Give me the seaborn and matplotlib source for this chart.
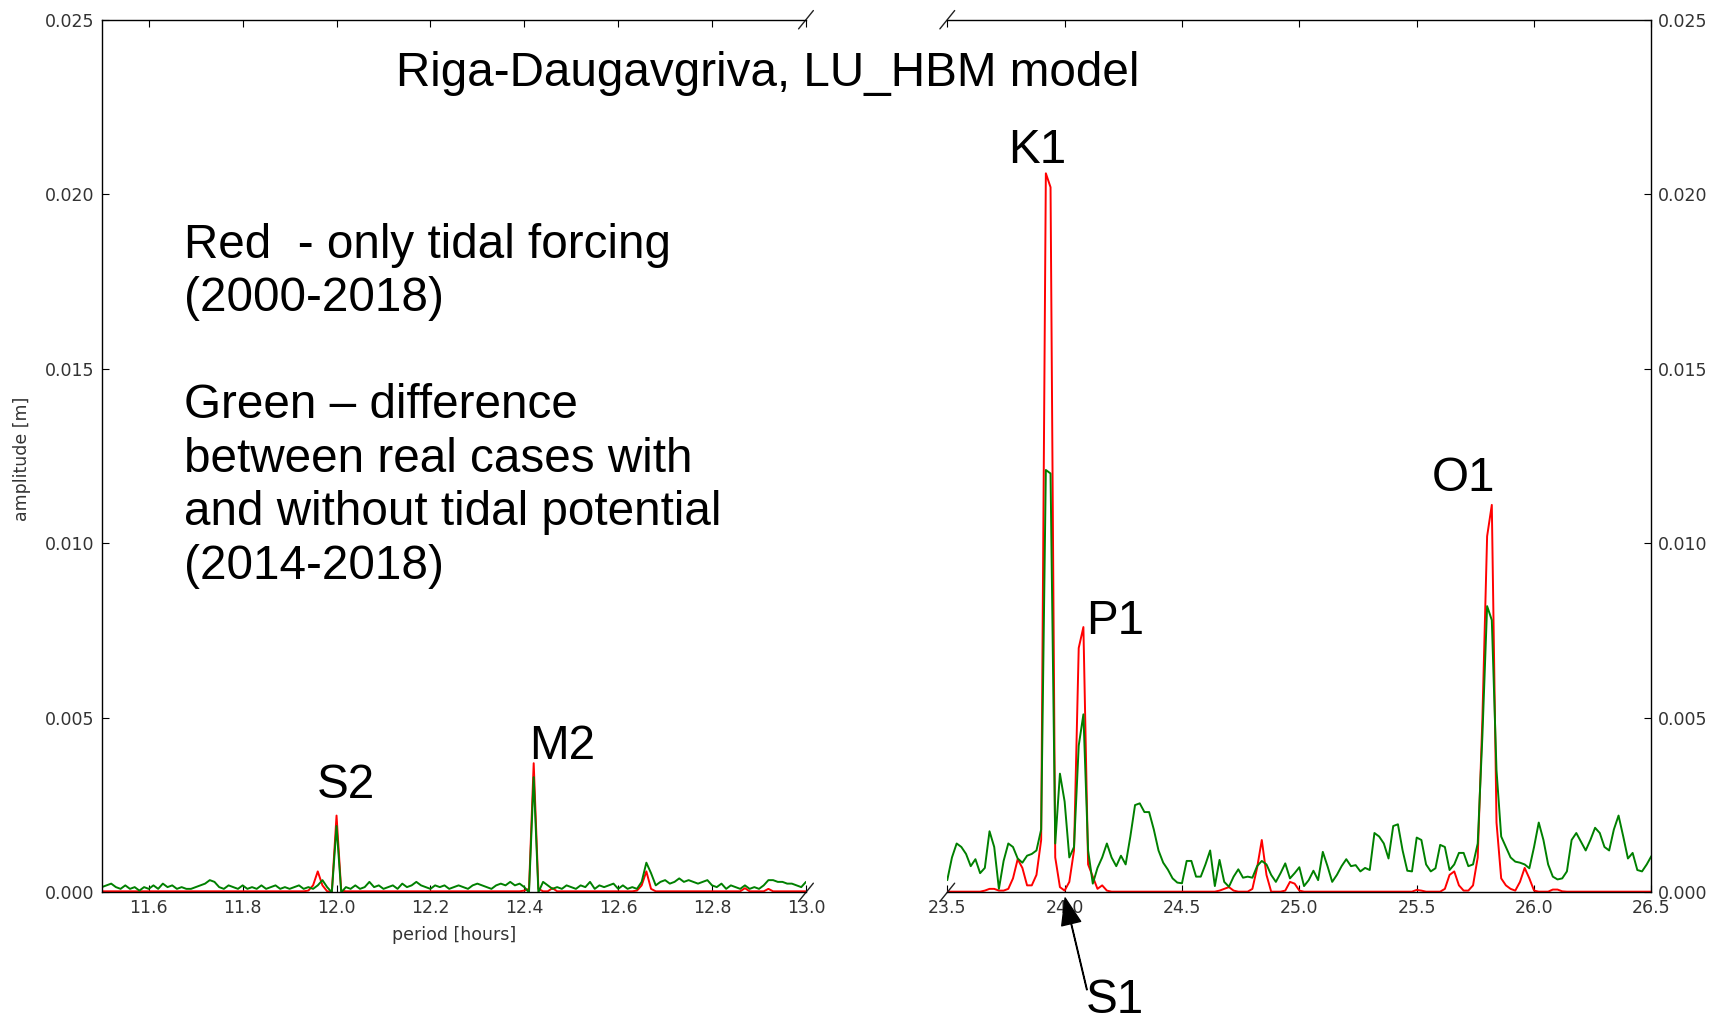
import numpy as np
import pandas as pd
import matplotlib
matplotlib.use("Agg")
import matplotlib.pyplot as plt
import seaborn as sns

# ---------------- data (amplitudes in mm, converted to m below) ----------------
# semi-diurnal window: periods 11.50 .. 13.00 h, step 0.01 h
semi_period = np.round(np.arange(11.50, 13.0001, 0.01), 2)
semi_red_mm = [
    0.03, 0.03, 0.03, 0.03, 0.03, 0.03, 0.03, 0.03, 0.03, 0.03,
    0.03, 0.03, 0.03, 0.03, 0.03, 0.03, 0.03, 0.03, 0.03, 0.03,
    0.03, 0.03, 0.03, 0.03, 0.03, 0.03, 0.03, 0.03, 0.03, 0.03,
    0.03, 0.03, 0.03, 0.03, 0.03, 0.03, 0.03, 0.03, 0.03, 0.03,
    0.03, 0.03, 0.03, 0.03, 0.05, 0.20, 0.60, 0.20, 0.03, 0.02,
    2.20, 0.05, 0.03, 0.03, 0.03, 0.03, 0.03, 0.03, 0.03, 0.03,
    0.03, 0.03, 0.03, 0.03, 0.03, 0.03, 0.03, 0.03, 0.03, 0.03,
    0.03, 0.03, 0.03, 0.03, 0.03, 0.03, 0.03, 0.03, 0.03, 0.03,
    0.03, 0.03, 0.03, 0.03, 0.03, 0.03, 0.03, 0.03, 0.03, 0.03,
    0.05, 0.10, 3.70, 0.10, 0.03, 0.03, 0.12, 0.03, 0.03, 0.03,
    0.03, 0.03, 0.03, 0.03, 0.03, 0.03, 0.03, 0.03, 0.03, 0.03,
    0.03, 0.03, 0.03, 0.03, 0.05, 0.20, 0.60, 0.10, 0.03, 0.03,
    0.03, 0.03, 0.03, 0.03, 0.03, 0.03, 0.03, 0.03, 0.03, 0.03,
    0.03, 0.03, 0.03, 0.03, 0.03, 0.03, 0.03, 0.12, 0.03, 0.03,
    0.03, 0.03, 0.10, 0.03, 0.03, 0.03, 0.03, 0.03, 0.03, 0.03,
    0.03,
]
semi_green_mm = [
    0.15, 0.20, 0.25, 0.15, 0.10, 0.20, 0.10, 0.15, 0.05, 0.15,
    0.10, 0.20, 0.10, 0.25, 0.15, 0.20, 0.10, 0.15, 0.10, 0.10,
    0.15, 0.20, 0.25, 0.35, 0.30, 0.15, 0.10, 0.20, 0.15, 0.10,
    0.20, 0.10, 0.15, 0.10, 0.20, 0.10, 0.15, 0.20, 0.10, 0.15,
    0.10, 0.15, 0.20, 0.10, 0.15, 0.10, 0.20, 0.35, 0.15, 0.00,
    1.90, 0.00, 0.15, 0.10, 0.20, 0.10, 0.15, 0.30, 0.15, 0.20,
    0.10, 0.15, 0.20, 0.10, 0.25, 0.15, 0.20, 0.30, 0.20, 0.15,
    0.10, 0.20, 0.15, 0.20, 0.10, 0.15, 0.20, 0.15, 0.10, 0.20,
    0.25, 0.20, 0.15, 0.10, 0.20, 0.25, 0.20, 0.30, 0.20, 0.25,
    0.15, 0.00, 3.30, 0.00, 0.30, 0.20, 0.10, 0.15, 0.10, 0.20,
    0.15, 0.10, 0.20, 0.15, 0.30, 0.10, 0.20, 0.15, 0.20, 0.25,
    0.10, 0.20, 0.10, 0.15, 0.10, 0.30, 0.85, 0.55, 0.20, 0.30,
    0.35, 0.25, 0.30, 0.40, 0.30, 0.35, 0.30, 0.25, 0.30, 0.35,
    0.20, 0.15, 0.25, 0.10, 0.20, 0.15, 0.10, 0.20, 0.10, 0.15,
    0.10, 0.20, 0.35, 0.35, 0.30, 0.30, 0.25, 0.25, 0.20, 0.15,
    0.30,
]

# diurnal window: periods 23.50 .. 26.50 h, step 0.02 h
diur_period = np.round(np.arange(23.50, 26.5001, 0.02), 2)
diur_red_mm = [
    0.02, 0.02, 0.02, 0.02, 0.02, 0.02, 0.02, 0.02, 0.05, 0.10,
    0.10, 0.05, 0.05, 0.10, 0.40, 0.95, 0.70, 0.20, 0.20, 0.50,
    1.50, 20.6, 20.2, 1.00, 0.15, 0.05, 0.30, 1.20, 7.00, 7.60,
    0.80, 0.45, 0.10, 0.20, 0.05, 0.02, 0.02, 0.02, 0.02, 0.02,
    0.02, 0.02, 0.02, 0.02, 0.02, 0.02, 0.02, 0.02, 0.02, 0.02,
    0.02, 0.02, 0.02, 0.02, 0.02, 0.02, 0.02, 0.02, 0.05, 0.10,
    0.15, 0.05, 0.02, 0.02, 0.02, 0.10, 0.70, 1.50, 0.50, 0.02,
    0.02, 0.02, 0.05, 0.30, 0.25, 0.05, 0.02, 0.02, 0.02, 0.02,
    0.02, 0.02, 0.02, 0.02, 0.02, 0.02, 0.02, 0.02, 0.02, 0.02,
    0.02, 0.02, 0.02, 0.02, 0.02, 0.02, 0.02, 0.02, 0.02, 0.02,
    0.07, 0.05, 0.02, 0.02, 0.02, 0.02, 0.10, 0.50, 0.60, 0.20,
    0.05, 0.05, 0.20, 1.00, 5.00, 10.2, 11.1, 2.00, 0.40, 0.20,
    0.10, 0.05, 0.30, 0.70, 0.40, 0.05, 0.02, 0.02, 0.02, 0.08,
    0.08, 0.03, 0.02, 0.02, 0.02, 0.02, 0.02, 0.02, 0.02, 0.02,
    0.02, 0.02, 0.02, 0.02, 0.02, 0.02, 0.02, 0.02, 0.02, 0.02,
    0.02,
]
diur_green_mm = [
    0.35, 1.00, 1.40, 1.30, 1.10, 0.75, 0.95, 0.55, 0.70, 1.75,
    1.30, 0.10, 0.90, 1.40, 1.30, 0.97, 0.85, 1.05, 1.10, 1.20,
    1.80, 12.1, 12.0, 1.40, 3.40, 2.60, 1.00, 1.30, 4.20, 5.10,
    1.20, 0.25, 0.70, 1.00, 1.40, 1.00, 0.75, 1.05, 0.80, 1.60,
    2.50, 2.55, 2.30, 2.30, 1.80, 1.20, 0.85, 0.65, 0.40, 0.28,
    0.26, 0.90, 0.90, 0.45, 0.45, 0.80, 1.20, 0.18, 0.93, 0.30,
    0.16, 0.45, 0.66, 0.42, 0.45, 0.42, 0.75, 0.90, 0.80, 0.50,
    0.30, 0.55, 0.83, 0.40, 0.55, 0.72, 0.18, 0.35, 0.62, 0.35,
    1.16, 0.75, 0.30, 0.50, 0.75, 0.95, 0.75, 0.78, 0.60, 0.70,
    0.64, 1.70, 1.60, 1.40, 0.97, 1.90, 1.95, 1.20, 0.62, 0.60,
    1.57, 1.50, 0.80, 0.60, 0.69, 1.36, 1.30, 0.64, 0.80, 1.13,
    1.13, 0.75, 0.80, 1.40, 4.50, 8.20, 7.80, 3.50, 1.60, 1.30,
    1.00, 0.88, 0.85, 0.80, 0.69, 1.30, 2.00, 1.50, 0.80, 0.45,
    0.37, 0.40, 0.60, 1.50, 1.70, 1.45, 1.20, 1.50, 1.85, 1.70,
    1.30, 1.20, 1.80, 2.20, 1.60, 0.97, 1.13, 0.64, 0.60, 0.80,
    1.04,
]

semi_ticks = [11.6, 11.8, 12.0, 12.2, 12.4, 12.6, 12.8, 13.0]
diur_ticks = [23.5, 24.0, 24.5, 25.0, 25.5, 26.0, 26.5]
amp_ticks = [0.0, 0.005, 0.010, 0.015, 0.020, 0.025]

title_text = "Riga-Daugavgriva, LU_HBM model"
note_text = ("Red  - only tidal forcing\n(2000-2018)\n\n"
             "Green \u2013 difference\nbetween real cases with\n"
             "and without tidal potential\n(2014-2018)")

df_semi = pd.DataFrame({"period": semi_period,
                        "red": np.array(semi_red_mm) / 1000.0,
                        "green": np.array(semi_green_mm) / 1000.0})
df_diur = pd.DataFrame({"period": diur_period,
                        "red": np.array(diur_red_mm) / 1000.0,
                        "green": np.array(diur_green_mm) / 1000.0})

# ---------------- style ----------------
sns.set_style("white")
plt.rcParams["font.family"] = ["DejaVu Sans"]
plt.rcParams.update({
    "xtick.direction": "in", "ytick.direction": "in",
    "xtick.major.size": 5, "ytick.major.size": 5,
    "xtick.major.width": 0.8, "ytick.major.width": 0.8,
    "xtick.major.pad": 5, "ytick.major.pad": 5,
    "axes.edgecolor": "black", "axes.linewidth": 1.0,
})
BIG = dict(family=["Liberation Sans", "DejaVu Sans"], fontsize=34.3, color="black")
TICK_FS = 12.5
TICK_COLOR = "#333333"
LW = 1.4

fig = plt.figure(figsize=(17.17, 10.16), dpi=100)
ax1 = fig.add_axes([0.0593, 0.1217, 0.4101, 0.8589])
ax2 = fig.add_axes([0.5517, 0.1217, 0.4101, 0.8589])

for ax, df in ((ax1, df_semi), (ax2, df_diur)):
    sns.lineplot(data=df, x="period", y="red", color="#ff0000", lw=LW,
                 ax=ax, legend=False, errorbar=None, sort=False)
    sns.lineplot(data=df, x="period", y="green", color="#008000", lw=LW,
                 ax=ax, legend=False, errorbar=None, sort=False)
    ax.set_ylim(0, 0.025)
    ax.set_yticks(amp_ticks)
    ax.set_yticklabels([f"{v:.3f}" for v in amp_ticks])
    ax.xaxis.set_ticks_position("both")
    ax.tick_params(axis="both", labelsize=TICK_FS, labelcolor=TICK_COLOR,
                   color="black")
    ax.grid(False)

ax1.set_xlim(11.5, 13.0)
ax1.set_xticks(semi_ticks)
ax1.set_xticklabels([f"{v:.1f}" for v in semi_ticks])
ax2.set_xlim(23.5, 26.5)
ax2.set_xticks(diur_ticks)
ax2.set_xticklabels([f"{v:.1f}" for v in diur_ticks])

ax1.spines["right"].set_visible(False)
ax2.spines["left"].set_visible(False)
ax1.yaxis.tick_left()
ax2.yaxis.tick_right()
ax2.tick_params(axis="y", labelright=True, labelleft=False)

ax1.set_xlabel("period [hours]", fontsize=TICK_FS, color=TICK_COLOR)
ax1.xaxis.set_label_coords(0.5, -0.039)
ax1.set_ylabel("amplitude [m]", fontsize=TICK_FS, color=TICK_COLOR)
ax1.yaxis.set_label_coords(-0.100, 0.497)
ax2.set_xlabel("")
ax2.set_ylabel("")

# break marks
d = 0.0105
kw = dict(transform=ax1.transAxes, color="#222222", clip_on=False, lw=1.0)
ax1.plot((1 - d, 1 + d), (-d, d), **kw)
ax1.plot((1 - d, 1 + d), (1 - d, 1 + d), **kw)
kw.update(transform=ax2.transAxes)
ax2.plot((-d, d), (-d, d), **kw)
ax2.plot((-d, d), (1 - d, 1 + d), **kw)

# texts
fig.text(0.447, 0.9154, title_text, ha="center", va="baseline", **BIG)
# multi-line text: baseline alignment refers to the last line
fig.text(0.107, 0.4304, note_text, ha="left", va="baseline",
         linespacing=1.243, **BIG)

ax1.text(12.02, 0.00271, "S2", ha="center", va="baseline", **BIG)
ax1.text(12.48, 0.00381, "M2", ha="center", va="baseline", **BIG)
ax2.text(23.883, 0.0209, "K1", ha="center", va="baseline", **BIG)
ax2.text(24.214, 0.00741, "P1", ha="center", va="baseline", **BIG)
ax2.text(25.698, 0.01149, "O1", ha="center", va="baseline", **BIG)
ax2.text(24.214, -0.00346, "S1", ha="center", va="baseline", clip_on=False, **BIG)
ax2.annotate("", xy=(24.002, -0.00016), xytext=(24.095, -0.00279),
             xycoords="data", textcoords="data", annotation_clip=False,
             arrowprops=dict(facecolor="black", edgecolor="black", width=0.4,
                             headwidth=14, headlength=19, shrink=0.0))

fig.savefig("out.png", dpi=100)
